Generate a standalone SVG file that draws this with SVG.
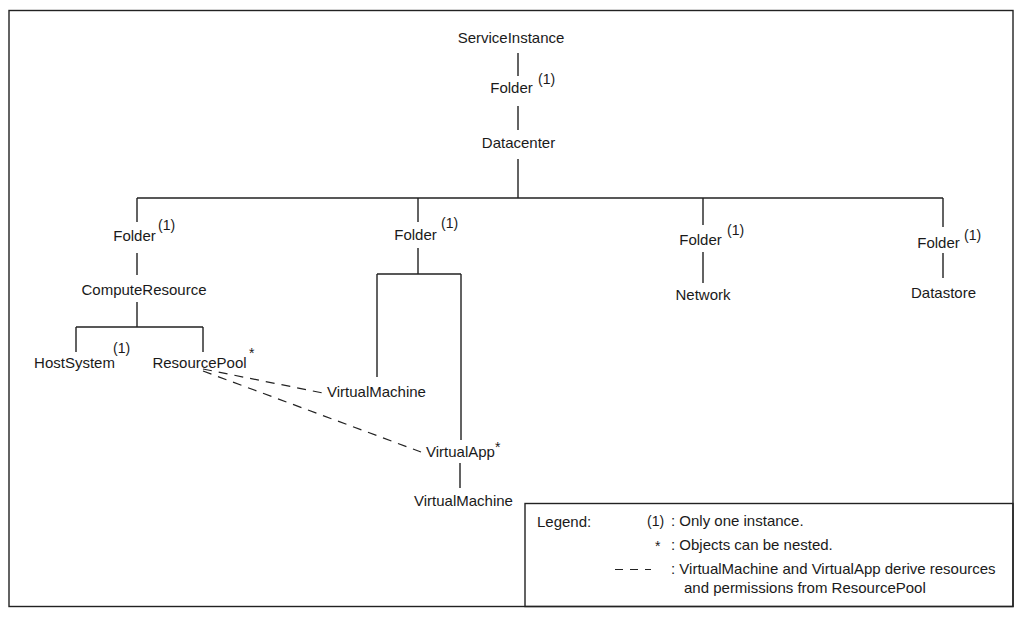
<svg xmlns="http://www.w3.org/2000/svg" width="1033" height="618" viewBox="0 0 1033 618">
<style>
text{font-family:"Liberation Sans",Arial,sans-serif;font-size:15px;fill:#1a1a1a}
.n{text-anchor:middle}
.sup{font-size:14px}
.ln{stroke:#222;stroke-width:1.4;fill:none}
.dash{stroke:#222;stroke-width:1.2;fill:none;stroke-dasharray:9 7}
</style>
<rect x="0" y="0" width="1033" height="618" fill="#fff"/>
<rect x="9" y="10.5" width="1004" height="596" class="ln"/>
<g id="connectors">
<path class="ln" d="M518 53V76M518 106V130M518 159V198M137 198H943M137 198V222M418 198V222M703 198V225M943 198V227"/>
<path class="ln" d="M137 253V275M137 302V327M76 327H203M76 327V352M203 327V352"/>
<path class="ln" d="M418 248V274M377 274H461M377 274V377M461 274V440M460 463V488"/>
<path class="ln" d="M703 252V283M943 253V278"/>
<path class="dash" d="M203 369L323 393"/>
<path class="dash" d="M203 371L421 452"/>
</g>
<g id="serviceinstance"><text class="n" x="511" y="43">ServiceInstance</text></g>
<g id="folder-root"><text class="n" x="511.5" y="93">Folder</text><text class="sup" x="538" y="84">(1)</text></g>
<g id="datacenter"><text class="n" x="518.5" y="148">Datacenter</text></g>
<g id="folder-host"><text class="n" x="134.5" y="241">Folder</text><text class="sup" x="158" y="230">(1)</text></g>
<g id="computeresource"><text class="n" x="144" y="295">ComputeResource</text></g>
<g id="hostsystem"><text class="n" x="74.5" y="368">HostSystem</text><text class="sup" x="113" y="353">(1)</text></g>
<g id="resourcepool"><text class="n" x="199.5" y="368">ResourcePool</text><text class="sup" x="249" y="358">*</text></g>
<g id="folder-vm"><text class="n" x="415.5" y="240">Folder</text><text class="sup" x="441" y="228">(1)</text></g>
<g id="virtualmachine1"><text class="n" x="376.5" y="397">VirtualMachine</text></g>
<g id="virtualapp"><text class="n" x="460.5" y="457">VirtualApp</text><text class="sup" x="495" y="452">*</text></g>
<g id="virtualmachine2"><text class="n" x="463.5" y="506">VirtualMachine</text></g>
<g id="folder-network"><text class="n" x="700.5" y="245">Folder</text><text class="sup" x="727" y="235">(1)</text></g>
<g id="network"><text class="n" x="703" y="300">Network</text></g>
<g id="folder-datastore"><text class="n" x="938.5" y="248">Folder</text><text class="sup" x="964" y="240">(1)</text></g>
<g id="datastore"><text class="n" x="943.5" y="298">Datastore</text></g>
<g id="legend">
<rect x="525" y="503.5" width="488" height="103" class="ln"/>
<text x="537" y="527">Legend:</text>
<text class="sup" x="647" y="526">(1)</text>
<text x="671" y="526">: Only one instance.</text>
<text class="sup" x="655" y="551">*</text>
<text x="671" y="550">: Objects can be nested.</text>
<path class="ln" d="M615 569.5H623M630 569.5H638M645 569.5H651" style="stroke-width:1.2"/>
<text x="671" y="574">: VirtualMachine and VirtualApp derive resources</text>
<text x="684" y="593">and permissions from ResourcePool</text>
</g>
</svg>
